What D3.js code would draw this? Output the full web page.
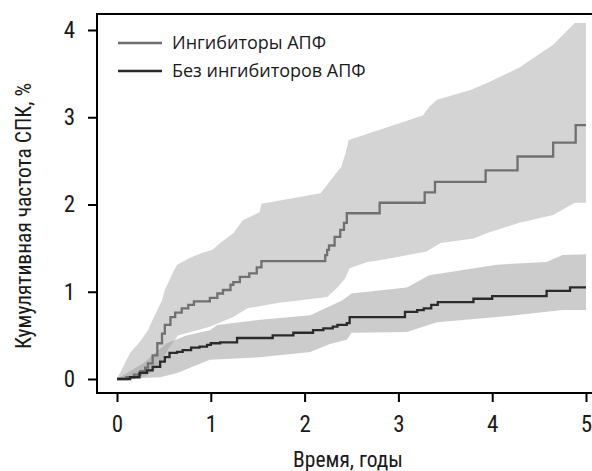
<!DOCTYPE html>
<html>
<head>
<meta charset="utf-8">
<script src="https://cdn.jsdelivr.net/npm/d3@7"></script>
<style>
  body { margin: 0; background: #fff; }
  svg { display: block; }
</style>
</head>
<body>
<svg width="592" height="471"></svg>
<script>
// step curve: ACE inhibitors
const aceTime = [0, 0.10, 0.18, 0.25, 0.30, 0.33, 0.38, 0.43, 0.48, 0.51, 0.57, 0.62, 0.69, 0.76, 0.82, 0.99, 1.07, 1.13, 1.21, 1.24, 1.31, 1.41, 1.49, 1.54, 2.22, 2.24, 2.26, 2.32, 2.38, 2.42, 2.45, 2.80, 3.28, 3.39, 3.93, 4.27, 4.65, 4.89, 5.0];
const aceRisk = [0, 0.02, 0.05, 0.09, 0.13, 0.18, 0.27, 0.41, 0.52, 0.62, 0.71, 0.76, 0.81, 0.85, 0.89, 0.93, 0.98, 1.02, 1.08, 1.11, 1.17, 1.21, 1.28, 1.35, 1.42, 1.48, 1.53, 1.63, 1.71, 1.79, 1.90, 2.02, 2.14, 2.26, 2.39, 2.55, 2.71, 2.91, 2.91];

// confidence band: ACE inhibitors
const aceUpperTime = [0, 0.14, 0.24, 0.33, 0.38, 0.48, 0.51, 0.60, 0.64, 0.78, 0.92, 1.02, 1.10, 1.24, 1.34, 1.52, 1.54, 2.17, 2.28, 2.39, 2.44, 2.47, 3.26, 3.33, 3.41, 3.76, 3.94, 4.29, 4.65, 4.88, 5.0];
const aceUpper = [0, 0.30, 0.42, 0.56, 0.68, 0.90, 1.02, 1.23, 1.31, 1.39, 1.45, 1.48, 1.56, 1.67, 1.82, 1.91, 2.01, 2.13, 2.28, 2.43, 2.60, 2.74, 3.02, 3.12, 3.20, 3.31, 3.39, 3.57, 3.83, 4.08, 4.08];
const aceLowerTime = [0, 0.30, 0.45, 0.55, 0.65, 0.99, 1.24, 1.39, 1.71, 2.24, 2.35, 2.43, 2.48, 2.67, 2.80, 3.30, 3.45, 3.80, 3.94, 4.29, 4.65, 4.88, 5.0];
const aceLower = [0, 0.03, 0.15, 0.35, 0.50, 0.60, 0.71, 0.81, 0.87, 0.94, 1.05, 1.15, 1.27, 1.34, 1.36, 1.46, 1.56, 1.61, 1.67, 1.79, 1.88, 2.02, 2.02];

// step curve: without ACE inhibitors
const noAceTime = [0, 0.14, 0.24, 0.32, 0.38, 0.46, 0.51, 0.56, 0.64, 0.70, 0.79, 0.88, 0.96, 1.00, 1.10, 1.28, 1.66, 1.88, 2.09, 2.20, 2.30, 2.35, 2.45, 2.48, 3.07, 3.20, 3.27, 3.35, 3.42, 3.80, 4.00, 4.58, 4.83, 5.0];
const noAceRisk = [0, 0.02, 0.07, 0.10, 0.14, 0.20, 0.25, 0.30, 0.31, 0.33, 0.36, 0.37, 0.39, 0.41, 0.42, 0.47, 0.50, 0.53, 0.56, 0.58, 0.60, 0.62, 0.64, 0.71, 0.77, 0.79, 0.81, 0.85, 0.88, 0.92, 0.95, 1.01, 1.05, 1.05];

// confidence band: without ACE inhibitors
const noAceUpperTime = [0, 0.28, 0.53, 0.74, 0.99, 1.07, 1.53, 2.06, 2.40, 2.50, 3.09, 3.33, 4.05, 4.58, 4.75, 5.0];
const noAceUpper = [0, 0.18, 0.41, 0.50, 0.56, 0.62, 0.68, 0.73, 0.90, 0.98, 1.05, 1.19, 1.31, 1.34, 1.42, 1.43];
const noAceLowerTime = [0, 0.46, 0.64, 0.99, 1.52, 2.06, 2.27, 2.45, 2.50, 3.09, 3.41, 4.05, 4.58, 4.75, 5.0];
const noAceLower = [0, 0.02, 0.07, 0.22, 0.25, 0.31, 0.40, 0.45, 0.53, 0.54, 0.65, 0.71, 0.77, 0.79, 0.79];

const xTicks = [0, 1, 2, 3, 4, 5];
const yTicks = [0, 1, 2, 3, 4];
const legendLabels = ["Ингибиторы АПФ", "Без ингибиторов АПФ"];

const svg = d3.select("svg");
const axisFont = "'Liberation Sans Narrow', 'Roboto Condensed', 'Arial Narrow', sans-serif";

const x = d3.scaleLinear().domain([0, 5]).range([117, 586]);
const y = d3.scaleLinear().domain([0, 4]).range([379, 30]);

const zip = (ts, vs) => ts.map((t, i) => [t, vs[i]]);
const band = (ut, uv, lt, lv) => zip(ut, uv).concat(zip(lt, lv).reverse());

const poly = d3.line().x(d => x(d[0])).y(d => y(d[1]));
const step = d3.line().x(d => x(d[0])).y(d => y(d[1])).curve(d3.curveStepAfter);

svg.append("path")
  .attr("d", poly(band(aceUpperTime, aceUpper, aceLowerTime, aceLower)) + "Z")
  .attr("fill", "#d4d4d4");

svg.append("path")
  .attr("d", poly(band(noAceUpperTime, noAceUpper, noAceLowerTime, noAceLower)) + "Z")
  .attr("fill", "#9a9a9a")
  .attr("fill-opacity", 0.5);

svg.append("path")
  .attr("d", step(zip(aceTime, aceRisk)))
  .attr("fill", "none")
  .attr("stroke", "#707070")
  .attr("stroke-width", 2.3);

svg.append("path")
  .attr("d", step(zip(noAceTime, noAceRisk)))
  .attr("fill", "none")
  .attr("stroke", "#2a2a2a")
  .attr("stroke-width", 2.3);

// frame
svg.append("rect")
  .attr("x", 97).attr("y", 14)
  .attr("width", 520).attr("height", 379)
  .attr("fill", "none")
  .attr("stroke", "#000")
  .attr("stroke-width", 2);

// axes
const xAxis = svg.append("g")
  .attr("transform", "translate(0,393)")
  .call(d3.axisBottom(x).tickValues(xTicks).tickSize(9).tickPadding(14).tickFormat(d3.format("d")));
const yAxis = svg.append("g")
  .attr("transform", "translate(97,0)")
  .call(d3.axisLeft(y).tickValues(yTicks).tickSize(9).tickPadding(13).tickFormat(d3.format("d")));

[xAxis, yAxis].forEach(a => {
  a.select(".domain").remove();
  a.selectAll(".tick line").attr("stroke", "#000").attr("stroke-width", 2);
  a.selectAll(".tick text")
    .attr("fill", "#1a1a1a")
    .style("font-family", axisFont)
    .style("font-size", "23px");
});

svg.append("text")
  .attr("x", 348).attr("y", 467)
  .attr("text-anchor", "middle")
  .style("font-family", axisFont)
  .style("font-size", "21.5px")
  .attr("fill", "#1a1a1a")
  .text("Время, годы");

svg.append("text")
  .attr("transform", "translate(31,216) rotate(-90)")
  .attr("text-anchor", "middle")
  .style("font-family", axisFont)
  .style("font-size", "21.5px")
  .attr("fill", "#1a1a1a")
  .text("Кумулятивная частота СПК, %");

// legend
const legendColors = ["#707070", "#2a2a2a"];
const legend = svg.append("g")
  .selectAll("g")
  .data(legendLabels)
  .enter().append("g")
  .attr("transform", (d, i) => "translate(118," + (43 + i * 28) + ")");

legend.append("line")
  .attr("x1", 0).attr("x2", 44)
  .attr("stroke", (d, i) => legendColors[i])
  .attr("stroke-width", 2.5);

legend.append("text")
  .attr("x", 54)
  .attr("dy", "0.35em")
  .style("font-family", "'Open Sans', sans-serif")
  .style("font-size", "18px")
  .attr("fill", "#1a1a1a")
  .text(d => d);
</script>
</body>
</html>
